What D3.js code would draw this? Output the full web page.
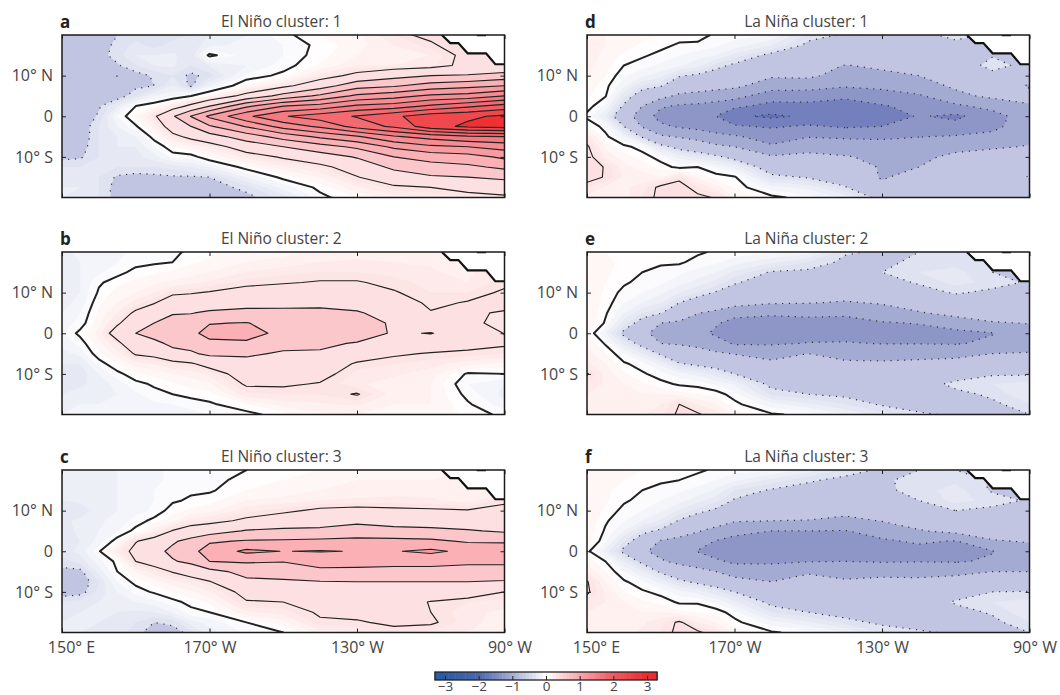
<!DOCTYPE html>
<html>
<head>
<meta charset="utf-8">
<script src="https://cdn.jsdelivr.net/npm/d3@7"></script>
<style>
body { margin: 0; background: #fff; }
svg { display: block; overflow: hidden; }
text { font-family: "Open Sans", sans-serif; font-weight: 400; fill: #444; }
.tick line { stroke: #222; stroke-width: 1; }
</style>
</head>
<body>
<div id="chart"></div>
<script>
//Grid nodes (each panel below is one array per longitude, north to south)
const lons = [150,155,160,165,170,175,180,185,190,200,210,220,230,240,250,260,270];
const lats = [20,17.5,15,12.5,10,7.5,5,2.5,0,-2.5,-5,-7.5,-10,-12.5,-15,-17.5,-20];

const elNino1 = [
  [-.28,-.3,-.3,-.3,-.3,-.32,-.33,-.33,-.35,-.33,-.32,-.3,-.27,-.2,-.18,-.15,-.15],
  [-.26,-.28,-.28,-.3,-.3,-.3,-.3,-.3,-.3,-.3,-.3,-.28,-.26,-.2,-.16,-.15,-.17],
  [-.27,-.27,-.28,-.28,-.28,-.28,-.28,-.26,-.24,-.2,-.2,-.2,-.2,-.19,-.2,-.2,-.2],
  [-.25,-.24,-.22,-.26,-.51,-.4,-.3,-.15,-.05,-.1,-.15,-.15,-.17,-.2,-.26,-.28,-.28],
  [-.23,-.18,-.15,-.2,-.28,-.27,-.2,0,.06,-.01,-.1,-.15,-.17,-.2,-.28,-.3,-.3],
  [-.25,-.22,-.15,-.15,-.24,-.25,-.1,.05,.22,.12,.03,-.05,-.12,-.2,-.27,-.3,-.32],
  [-.22,-.18,-.14,-.14,-.2,-.15,-.06,.15,.47,.35,.2,.04,-.03,-.18,-.26,-.3,-.33],
  [-.2,-.18,-.18,-.2,-.27,-.27,0,.3,.76,.5,.3,.1,-.03,-.15,-.26,-.3,-.33],
  [-.15,-.12,.02,-.15,-.22,-.1,.08,.5,1.05,.72,.4,.16,.05,-.1,-.25,-.3,-.33],
  [-.1,-.08,-.08,-.1,-.04,.06,.32,.95,1.45,1.02,.62,.35,.17,.03,-.1,-.22,-.28],
  [-.02,-.05,-.05,-.03,.02,.2,.58,1.25,1.73,1.35,.85,.5,.27,.13,.02,-.08,-.18],
  [.05,.02,.03,.06,.17,.38,.8,1.35,1.88,1.55,1.05,.65,.38,.2,.1,.02,-.02],
  [.08,.08,.1,.14,.3,.65,1.05,1.55,2.02,1.85,1.22,.8,.52,.35,.24,.14,.05],
  [.2,.15,.12,.15,.42,.72,1.15,1.62,2.2,2.05,1.47,1.05,.75,.55,.38,.22,.12],
  [.3,.22,.15,.18,.5,.85,1.3,1.8,2.4,2.4,1.6,1.2,.85,.65,.47,.25,.15],
  [.4,.38,.3,.3,.52,.92,1.35,1.95,2.45,2.55,1.72,1.25,.9,.7,.5,.3,.2],
  [.5,.5,.5,.27,.6,1,1.5,2.1,2.55,2.6,1.75,1.35,1.05,.8,.55,.35,.22]
];
const elNino2 = [
  [-.12,-.12,-.12,-.13,-.13,-.12,-.1,-.08,-.06,-.08,-.12,-.15,-.18,-.18,-.15,-.12,-.1],
  [-.08,-.1,-.1,-.1,-.1,-.08,-.05,-.03,.02,-.03,-.08,-.15,-.18,-.16,-.13,-.1,-.1],
  [-.07,-.07,-.06,-.01,.01,.04,.06,.08,.12,.08,.04,-.03,-.1,-.13,-.12,-.1,-.1],
  [-.06,-.05,-.02,.03,.07,.1,.15,.22,.35,.2,.12,.05,-.02,-.08,-.1,-.1,-.1],
  [-.04,-.02,.02,.07,.1,.17,.28,.4,.5,.42,.27,.12,.04,-.02,-.06,-.08,-.09],
  [-.03,-.01,.04,.09,.15,.24,.36,.5,.62,.42,.3,.15,.07,.01,-.02,-.06,-.08],
  [-.02,0,.06,.11,.22,.35,.48,.6,.68,.57,.4,.2,.1,.04,0,-.05,-.08],
  [.02,.04,.08,.13,.24,.33,.49,.62,.7,.58,.47,.23,.12,.07,.02,-.03,-.07],
  [.04,.06,.1,.16,.26,.36,.54,.74,.82,.7,.55,.32,.16,.09,.03,-.01,-.05],
  [.08,.1,.15,.22,.3,.4,.58,.76,.82,.72,.54,.42,.34,.27,.18,.04,-.02],
  [.08,.12,.18,.24,.32,.43,.56,.65,.7,.58,.47,.38,.32,.27,.2,.12,.03],
  [.12,.15,.2,.26,.34,.44,.56,.65,.68,.55,.47,.37,.3,.24,.2,.14,.09],
  [.12,.16,.2,.26,.35,.42,.52,.6,.64,.48,.36,.23,.18,.16,.26,.16,.1],
  [.12,.15,.18,.22,.26,.34,.42,.47,.47,.37,.27,.2,.16,.12,.12,.1,.09],
  [.12,.14,.16,.18,.2,.22,.26,.33,.51,.35,.24,.17,.12,.1,.1,.1,.08],
  [.12,.14,.12,.15,.2,.26,.28,.29,.38,.31,.22,.12,-.01,-.05,-.02,.01,.04],
  [.3,.3,.3,.22,.27,.32,.23,.2,.245,.27,.2,.08,0,-.1,-.12,-.08,-.02]
];
const elNino3 = [
  [-.14,-.15,-.15,-.15,-.16,-.16,-.17,-.17,-.18,-.22,-.27,-.3,-.29,-.2,-.16,-.15,-.14],
  [-.12,-.14,-.14,-.14,-.18,-.14,-.14,-.15,-.13,-.18,-.27,-.3,-.28,-.18,-.15,-.15,-.15],
  [-.12,-.12,-.12,-.13,-.12,-.11,-.1,-.08,-.01,-.07,-.13,-.2,-.18,-.15,-.15,-.15,-.16],
  [-.1,-.1,-.1,-.1,-.1,-.08,-.05,.03,.16,.02,0,-.05,-.1,-.13,-.15,-.16,-.18],
  [-.08,-.08,-.08,-.08,-.07,-.03,.02,.24,.3,.25,.1,.02,-.03,-.1,-.16,-.2,-.22],
  [-.06,-.06,-.05,-.05,-.04,.02,.13,.32,.43,.32,.18,.07,.01,-.07,-.15,-.25,-.3],
  [-.04,-.04,-.03,-.01,.03,.08,.26,.47,.55,.48,.26,.13,.05,-.02,-.1,-.23,-.29],
  [-.03,-.03,-.01,.01,.06,.17,.34,.57,.68,.55,.34,.17,.09,.02,-.02,-.12,-.22],
  [-.02,-.02,-.01,.03,.08,.2,.38,.72,.85,.75,.42,.24,.14,.06,0,-.08,-.12],
  [0,.02,.05,.1,.18,.28,.52,.77,1.05,.78,.58,.45,.3,.24,.14,0,-.04],
  [.03,.05,.07,.12,.22,.35,.55,.78,.995,.76,.6,.47,.33,.25,.17,.08,0],
  [.05,.08,.1,.15,.28,.38,.56,.8,1.015,.8,.72,.49,.36,.31,.27,.23,.12],
  [.08,.1,.12,.16,.3,.45,.6,.82,.99,.82,.7,.5,.4,.33,.28,.24,.14],
  [.08,.1,.12,.17,.28,.42,.56,.82,.985,.8,.7,.5,.42,.35,.3,.27,.22],
  [.08,.1,.12,.16,.27,.4,.55,.8,1.05,.82,.68,.5,.38,.24,.25,.27,.18],
  [.1,.12,.1,.12,.26,.37,.52,.72,.94,.8,.65,.5,.33,.2,.16,.17,.15],
  [.15,.15,.12,.22,.3,.38,.47,.7,.98,.8,.65,.48,.25,.17,.14,.12,.1]
];
const laNina1 = [
  [.12,.14,.13,.12,.1,.08,.06,.03,-.02,.06,.18,.27,.3,.32,.3,.2,.14],
  [.1,.1,.08,.07,.05,.02,.005,-.06,-.15,-.03,.02,.08,.14,.24,.24,.14,.12],
  [.08,.07,.04,0,-.04,-.09,-.18,-.27,-.38,-.25,-.1,.02,.07,.12,.14,.14,.12],
  [.07,.04,.01,-.03,-.09,-.2,-.33,-.5,-.62,-.52,-.27,-.03,.03,.08,.12,.17,.2],
  [.05,.02,-.02,-.06,-.13,-.24,-.42,-.72,-.84,-.7,-.47,-.2,-.03,.03,.1,.28,.28],
  [.03,-.01,-.05,-.09,-.24,-.33,-.55,-.78,-.88,-.78,-.52,-.3,-.12,-.02,.22,.3,.3],
  [.02,-.01,-.08,-.13,-.27,-.38,-.58,-.8,-.92,-.82,-.6,-.33,-.18,0,.08,.2,.28],
  [-.01,-.04,-.1,-.22,-.3,-.42,-.62,-.85,-1,-.88,-.68,-.45,-.22,-.06,.03,.12,.24],
  [-.03,-.07,-.17,-.27,-.33,-.45,-.65,-.95,-1.2,-.97,-.72,-.5,-.3,-.12,.01,.04,.1],
  [-.05,-.15,-.28,-.35,-.47,-.62,-.9,-1.07,-1.3,-1.03,-.85,-.72,-.47,-.33,-.22,-.08,.02],
  [-.22,-.27,-.32,-.38,-.46,-.62,-.92,-1.05,-1.2,-.97,-.76,-.62,-.42,-.34,-.26,-.12,-.03],
  [-.26,-.3,-.33,-.51,-.58,-.72,-.97,-1.07,-1.12,-1.03,-.78,-.64,-.48,-.38,-.32,-.24,-.12],
  [-.27,-.29,-.33,-.46,-.55,-.68,-.87,-1.02,-1.12,-1,-.8,-.63,-.56,-.52,-.52,-.45,-.3],
  [-.27,-.29,-.33,-.42,-.5,-.6,-.78,-.93,-.98,-.92,-.76,-.6,-.53,-.5,-.42,-.36,-.3],
  [-.23,-.27,-.3,-.35,-.38,-.46,-.56,-.8,-1.05,-.92,-.73,-.54,-.47,-.4,-.34,-.3,-.28],
  [-.26,-.26,-.26,-.2,-.3,-.38,-.45,-.66,-.86,-.82,-.68,-.52,-.43,-.36,-.32,-.3,-.28],
  [-.3,-.3,-.3,-.3,-.4,-.52,-.44,-.52,-.6,-.58,-.55,-.49,-.4,-.35,-.24,-.3,-.28]
];
const laNina2 = [
  [.06,.07,.07,.08,.09,.09,.1,.1,.06,.1,.12,.16,.26,.2,.15,.12,.1],
  [.05,.06,.06,.05,.04,.03,.01,-.01,-.1,-.01,.05,.1,.13,.14,.13,.12,.1],
  [.04,.04,.03,.01,-.02,-.05,-.1,-.18,-.28,-.17,-.05,.01,.06,.1,.12,.12,.12],
  [.04,.02,0,-.02,-.05,-.1,-.2,-.3,-.45,-.3,-.15,-.03,.01,.06,.1,.14,.14],
  [.03,.01,-.02,-.04,-.09,-.15,-.24,-.5,-.58,-.5,-.27,-.12,-.03,.02,.1,.15,.18],
  [.02,.01,-.04,-.08,-.15,-.25,-.38,-.53,-.62,-.52,-.37,-.24,-.08,-.01,.07,.25,.27],
  [.01,-.02,-.07,-.12,-.2,-.32,-.49,-.6,-.67,-.58,-.38,-.28,-.12,-.02,.05,.15,.27],
  [-.01,-.04,-.1,-.17,-.26,-.36,-.55,-.72,-.8,-.63,-.47,-.31,-.18,-.06,.03,.1,.18],
  [-.02,-.08,-.16,-.24,-.3,-.42,-.65,-.85,-.88,-.78,-.51,-.36,-.25,-.11,-.03,.02,.08],
  [-.04,-.14,-.26,-.3,-.36,-.48,-.72,-.83,-.86,-.78,-.57,-.46,-.36,-.28,-.21,-.08,.01],
  [-.08,-.2,-.27,-.33,-.37,-.49,-.7,-.82,-.84,-.74,-.5,-.44,-.36,-.3,-.25,-.14,-.02],
  [-.24,-.27,-.3,-.35,-.4,-.52,-.73,-.79,-.85,-.73,-.56,-.47,-.38,-.32,-.27,-.2,-.1],
  [-.26,-.28,-.25,-.29,-.34,-.48,-.62,-.77,-.82,-.76,-.58,-.47,-.38,-.33,-.3,-.26,-.18],
  [-.25,-.22,-.2,-.24,-.29,-.38,-.52,-.74,-.82,-.76,-.56,-.46,-.37,-.31,-.29,-.28,-.24],
  [-.25,-.22,-.18,-.18,-.24,-.32,-.43,-.62,-.82,-.77,-.55,-.44,-.32,-.22,-.28,-.28,-.26],
  [-.25,-.25,-.25,-.22,-.27,-.32,-.38,-.52,-.76,-.7,-.5,-.42,-.26,-.2,-.23,-.27,-.26],
  [-.3,-.3,-.3,-.26,-.3,-.33,-.4,-.49,-.6,-.57,-.49,-.4,-.26,-.18,-.16,-.2,-.25]
];
const laNina3 = [
  [.07,.08,.08,.09,.09,.09,.09,.08,.02,.08,.14,.26,.27,.2,.15,.13,.12],
  [.06,.06,.06,.06,.04,.01,-.01,-.04,-.12,0,.05,.1,.14,.15,.14,.13,.12],
  [.05,.05,.03,.01,-.02,-.05,-.1,-.2,-.28,-.15,-.05,.01,.05,.1,.12,.13,.13],
  [.05,.03,0,-.02,-.05,-.1,-.22,-.32,-.46,-.28,-.15,-.04,.01,.06,.1,.14,.16],
  [.03,.01,-.02,-.05,-.09,-.16,-.27,-.52,-.58,-.47,-.27,-.12,-.02,.03,.1,.18,.2],
  [.02,0,-.04,-.08,-.16,-.26,-.42,-.55,-.62,-.56,-.36,-.22,-.08,-.01,.06,.27,.28],
  [.01,-.02,-.07,-.13,-.22,-.33,-.48,-.65,-.76,-.6,-.44,-.28,-.12,-.01,.05,.15,.27],
  [-.01,-.05,-.11,-.18,-.27,-.38,-.58,-.76,-.88,-.7,-.5,-.33,-.18,-.06,.03,.1,.2],
  [-.03,-.09,-.2,-.26,-.3,-.48,-.68,-.82,-.9,-.8,-.6,-.42,-.25,-.14,-.03,.02,.08],
  [-.05,-.17,-.26,-.31,-.38,-.5,-.75,-.84,-.88,-.8,-.6,-.5,-.37,-.28,-.2,-.08,.01],
  [-.12,-.24,-.28,-.33,-.38,-.51,-.75,-.83,-.86,-.76,-.52,-.44,-.36,-.3,-.25,-.14,-.03],
  [-.22,-.27,-.3,-.36,-.43,-.56,-.76,-.78,-.85,-.75,-.56,-.48,-.38,-.32,-.29,-.22,-.1],
  [-.26,-.26,-.27,-.3,-.38,-.49,-.66,-.78,-.83,-.77,-.55,-.46,-.38,-.33,-.3,-.27,-.2],
  [-.25,-.23,-.22,-.25,-.3,-.38,-.52,-.72,-.82,-.76,-.56,-.46,-.37,-.31,-.29,-.28,-.24],
  [-.25,-.21,-.18,-.18,-.25,-.32,-.43,-.76,-.85,-.77,-.54,-.44,-.3,-.24,-.28,-.28,-.26],
  [-.26,-.26,-.26,-.22,-.27,-.32,-.38,-.52,-.76,-.72,-.5,-.42,-.25,-.2,-.24,-.27,-.26],
  [-.3,-.3,-.3,-.26,-.3,-.33,-.4,-.48,-.6,-.56,-.5,-.4,-.24,-.18,-.16,-.2,-.25]
];

//Coastline staircase at the top right of every panel
const landLons = [253,255.3,257.5,260,265,267.5,270];
const landLats = [20,18,18,15.5,15.5,12.8,12.8];
const islandLons = [262.5,265];

const panelLetters = ['a','b','c','d','e','f'];
const panelTitles = ['El Niño cluster: 1','El Niño cluster: 2','El Niño cluster: 3','La Niña cluster: 1','La Niña cluster: 2','La Niña cluster: 3'];
const panelGrids = [elNino1, elNino2, elNino3, laNina1, laNina2, laNina3];

const lonTicks = [150,190,230,270];
const lonTickLabels = ['150° E','170° W','130° W','90° W'];
const latTicks = [10,0,-10];
const latTickLabels = ['10° N','0','10° S'];
const colorbarTicks = [-3,-2,-1,0,1,2,3];

//Filled bands: flat steps away from zero, fine steps around it
const bandLevels = [-1.25,-1,-.75,-.5,-.25,-.2,-.15,-.1,-.05,0,.05,.1,.15,.2,.25,.5,.75,1,1.25,1.5,1.75,2,2.25,2.5];
const bandColors = ['#5f6fb5','#7480bd','#8e96c8','#a4abd3','#c1c5e1','#dfe2f1','#e6e8f4','#edeff7','#f4f5fa','#fbfbfd',
  '#fffdfd','#fff7f6','#fef1f0','#feeaea','#fde5e5','#fde0e1','#fbc7ca','#fab0b5','#f89ba1','#f78b92','#f57a80','#f36b71','#f25c62','#f0484d','#ef3035'];
const lineLevels = [-1.25,-1,-.75,-.5,-.25,0,.25,.5,.75,1,1.25,1.5,1.75,2,2.25,2.5];

const svgWidth = 1060, svgHeight = 695;
const panelWidth = 442.5, panelHeight = 162.5;
const columnX = [62, 587];
const rowY = [35, 252, 470];

const svg = d3.select('#chart').append('svg')
    .attr('width', svgWidth)
    .attr('height', svgHeight);

//Grid index to degrees, works with the uneven node spacing
const gridLon = d3.scaleLinear().domain(d3.range(lons.length)).range(lons);
const gridLat = d3.scaleLinear().domain(d3.range(lats.length)).range(lats);
const bandColor = d3.scaleThreshold().domain(bandLevels).range(bandColors);

const contours = d3.contours().size([lons.length, lats.length]);

panelGrids.forEach(function(grid, i) {
    const x0 = columnX[Math.floor(i / 3)];
    const y0 = rowY[i % 3];
    const values = d3.merge(d3.transpose(grid));

    const xScale = d3.scaleLinear().domain([150, 270]).range([0, panelWidth]);
    const yScale = d3.scaleLinear().domain([20, -20]).range([0, panelHeight]);

    const g = svg.append('g').attr('transform', 'translate(' + x0 + ',' + y0 + ')');

    g.append('clipPath').attr('id', 'clip' + i)
        .append('rect').attr('width', panelWidth).attr('height', panelHeight);
    const plot = g.append('g').attr('clip-path', 'url(#clip' + i + ')');

    const path = d3.geoPath(d3.geoTransform({
        point: function(x, y) {
            this.stream.point(xScale(gridLon(x - 0.5)), yScale(gridLat(y - 0.5)));
        }
    }));

    plot.append('rect')
        .attr('width', panelWidth)
        .attr('height', panelHeight)
        .attr('fill', bandColors[0]);

    plot.selectAll('.band')
        .data(contours.thresholds(bandLevels)(values))
        .enter().append('path')
        .attr('class', 'band')
        .attr('d', path)
        .attr('fill', function(d) { return bandColor(d.value); })
        .attr('stroke', function(d) { return bandColor(d.value); })
        .attr('stroke-width', 0.3);

    plot.selectAll('.level')
        .data(contours.thresholds(lineLevels)(values))
        .enter().append('path')
        .attr('class', 'level')
        .attr('d', path)
        .attr('fill', 'none')
        .attr('stroke', function(d) { return d.value < 0 ? '#333' : '#222'; })
        .attr('stroke-width', function(d) { return d.value === 0 ? 2 : d.value < 0 ? 1.2 : 1.15; })
        .attr('stroke-dasharray', function(d) { return d.value < 0 ? '1.2 5.6' : null; })
        .attr('stroke-linejoin', 'round');

    //Land is masked out in white, with a heavy coastline
    const coast = landLons.map(function(lon, k) { return [xScale(lon), yScale(landLats[k])]; });
    plot.append('path')
        .attr('d', d3.line()(coast.concat([[xScale(270), 0]])) + 'Z')
        .attr('fill', '#fff');
    plot.append('path')
        .attr('d', d3.line()(coast))
        .attr('fill', 'none')
        .attr('stroke', '#111')
        .attr('stroke-width', 2.2);
    plot.append('line')
        .attr('x1', xScale(islandLons[0])).attr('x2', xScale(islandLons[1]))
        .attr('y1', 0.5).attr('y2', 0.5)
        .attr('stroke', '#111')
        .attr('stroke-width', 1.5);

    //Ticks point inwards on all four sides
    const showLon = i % 3 === 2;
    const bottom = g.append('g')
        .attr('transform', 'translate(0,' + panelHeight + ')')
        .call(d3.axisBottom(xScale).tickValues(lonTicks).tickSize(-4).tickPadding(9)
            .tickFormat(function(d, k) { return showLon ? lonTickLabels[k] : ''; }));
    bottom.selectAll('text')
        .attr('font-size', 16)
        .attr('dx', function(d, k) { return k === 0 ? 9 : k === 3 ? 5 : 0; });
    g.append('g')
        .call(d3.axisTop(xScale).tickValues(lonTicks).tickSize(-4).tickFormat(''));
    g.append('g')
        .call(d3.axisLeft(yScale).tickValues(latTicks).tickSize(-4).tickPadding(9)
            .tickFormat(function(d, k) { return latTickLabels[k]; }))
        .selectAll('text')
        .attr('font-size', 16);
    g.append('g')
        .attr('transform', 'translate(' + panelWidth + ',0)')
        .call(d3.axisRight(yScale).tickValues(latTicks).tickSize(-4).tickFormat(''));
    g.selectAll('.domain').remove();

    g.append('rect')
        .attr('width', panelWidth)
        .attr('height', panelHeight)
        .attr('fill', 'none')
        .attr('stroke', '#1a1a1a')
        .attr('stroke-width', 1.5);

    g.append('text')
        .attr('x', panelWidth / 2 - 2)
        .attr('y', -8)
        .attr('text-anchor', 'middle')
        .attr('font-size', 15.5)
        .text(panelTitles[i]);

    g.append('text')
        .attr('x', -2)
        .attr('y', -7)
        .attr('font-size', 17)
        .style('font-weight', 700)
        .style('fill', '#222')
        .text(panelLetters[i]);
});

//Colour bar
const barX = d3.scaleLinear().domain([-3, 3]).range([445, 647]);
const barColor = d3.scaleLinear()
    .domain(colorbarTicks)
    .range(['#2b5ba8','#4a68b0','#a6add5','#ffffff','#f9a6ac','#f05a60','#ec2b30']);
const barSteps = d3.range(-33, 33).map(function(d) { return d / 10; });
const barY = 672, barHeight = 8;

svg.selectAll('.barstep')
    .data(barSteps)
    .enter().append('rect')
    .attr('class', 'barstep')
    .attr('x', function(d) { return barX(d); })
    .attr('y', barY)
    .attr('width', barX(0.1) - barX(0) + 0.5)
    .attr('height', barHeight)
    .attr('fill', function(d) { return barColor(Math.max(-3, Math.min(3, d + 0.05))); });

svg.append('rect')
    .attr('x', barX(-3.3))
    .attr('y', barY)
    .attr('width', barX(3.3) - barX(-3.3))
    .attr('height', barHeight)
    .attr('fill', 'none')
    .attr('stroke', '#222')
    .attr('stroke-width', 1.3);

const barAxis = svg.append('g')
    .attr('transform', 'translate(0,' + (barY + barHeight) + ')')
    .call(d3.axisBottom(barX).tickValues(colorbarTicks).tickSize(-4).tickPadding(1)
        .tickFormat(function(d) { return d < 0 ? '−' + (-d) : d; }));
barAxis.select('.domain').remove();
barAxis.selectAll('text').attr('font-size', 13.5);
</script>
</body>
</html>
